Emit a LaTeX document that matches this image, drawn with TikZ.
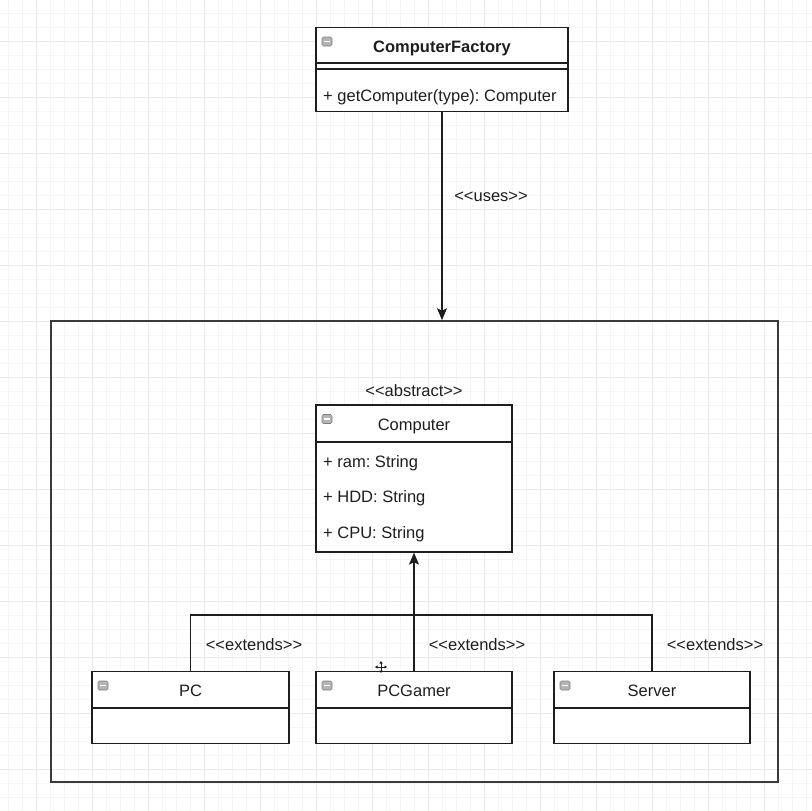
\documentclass[tikz,border=0pt]{standalone}
\usepackage{fontspec}
\setmainfont{Liberation Sans}
\usetikzlibrary{arrows.meta}
\frenchspacing
\definecolor{gridminor}{HTML}{F5F5F5}
\definecolor{gridmajor}{HTML}{EBEBEB}
\definecolor{ink}{HTML}{1E1E1E}
\definecolor{framec}{HTML}{3A3A3A}
\definecolor{iconfill}{HTML}{B4B4B4}
\tikzset{
  classbox/.style={draw=ink, line width=1.3pt, rectangle, inner sep=0pt},
  sep/.style={draw=ink, line width=1.1pt},
  label/.style={font=\fontsize{16.5}{19}\selectfont, inner sep=0pt, text=ink},
  title/.style={font=\fontsize{16.5}{19}\selectfont, inner sep=0pt, text=ink},
  member/.style={font=\fontsize{16.5}{19}\selectfont, inner sep=0pt, anchor=west, text=ink},
  conn/.style={draw=ink, line width=1.3pt},
  tip/.style={-{Stealth[length=12pt,width=10pt,inset=2.5pt]}},
  icon/.style={draw=gray, fill=iconfill, rounded corners=1.5pt, line width=0.6pt,
    minimum width=10pt, minimum height=9pt, inner sep=0pt},
}
% stereotype brackets, kept apart so the font does not join them into guillemets
\newcommand{\stereo}[1]{<\kern0pt<#1>\kern0pt>}
% collapse button in the top left corner of a class header
\newcommand{\collapsebtn}[2]{%
  \node[icon] at (#1+11,#2+14) {};
  \draw[white, line width=1.4pt] (#1+8,#2+14) -- (#1+14,#2+14);
}
\begin{document}
\begin{tikzpicture}[x=1pt,y=-1pt]
\useasboundingbox (0,0) rectangle (812,811);
\fill[white] (0,0) rectangle (812,811);
% background grid
\foreach \i in {0,...,58} {
  \draw[gridminor, line width=0.6pt] ({8+14*\i},0) -- ({8+14*\i},811);
  \draw[gridminor, line width=0.6pt] (0,{13+14*\i}) -- (812,{13+14*\i});
}
\foreach \i in {0,...,14} {
  \draw[gridmajor, line width=0.8pt] ({36+56*\i},0) -- ({36+56*\i},811);
  \draw[gridmajor, line width=0.8pt] (0,{41+56*\i}) -- (812,{41+56*\i});
}

% package frame
\node[draw=framec, line width=1.6pt, minimum width=727pt, minimum height=461pt, inner sep=0pt]
  (frame) at (414.5,551.5) {};

% ComputerFactory
\node[classbox, fill=white, minimum width=252pt, minimum height=84pt] (cf) at (442,69.5) {};
\draw[sep] (316,63) -- (568,63);
\draw[sep] (316,69) -- (568,69);
\collapsebtn{316}{27.5}
\node[title, font=\fontsize{16.5}{19}\selectfont\bfseries] (cft) at (442,48) {ComputerFactory};
\node[member] (cfm) at (323,97) {+ getComputer(type): Computer};

% Computer
\node[label] (abs) at (414,391) {\stereo{abstract}};
\node[classbox, fill=white, minimum width=196pt, minimum height=147pt] (comp) at (414,478.5) {};
\draw[sep] (316,442) -- (512,442);
\collapsebtn{316}{405}
\node[title] (compt) at (414,426) {Computer};
\node[member] (a1) at (323,463) {+ ram: String};
\node[member] (a2) at (323,498) {+ HDD: String};
\node[member] (a3) at (323,534) {+ CPU: String};

% subclasses
\node[classbox, fill=white, minimum width=197pt, minimum height=72pt] (pc) at (190.5,707.5) {};
\draw[sep] (92,708) -- (289,708);
\collapsebtn{92}{671.5}
\node[title] (pct) at (190.5,691) {PC};

\node[classbox, fill=white, minimum width=196pt, minimum height=72pt] (pcg) at (414,707.5) {};
\draw[sep] (316,708) -- (512,708);
\collapsebtn{316}{671.5}
\node[title] (pcgt) at (414,691) {PCGamer};

\node[classbox, fill=white, minimum width=196pt, minimum height=72pt] (srv) at (652,707.5) {};
\draw[sep] (554,708) -- (750,708);
\collapsebtn{554}{671.5}
\node[title] (srvt) at (652,691) {Server};

% uses dependency
\draw[conn, tip] (cf.south) -- (cf.south |- frame.north);
\node[label] (uses) at (491,197) {\stereo{uses}};

% generalisation
\coordinate (j) at (414,615);
\draw[conn, tip] (pcg.north) -- (comp.south);
\draw[conn] (pc.north) |- (j);
\draw[conn] (srv.north) |- (j);
\node[label] (e1) at (254,645) {\stereo{extends}};
\node[label] (e2) at (477,645) {\stereo{extends}};
\node[label] (e3) at (715,645) {\stereo{extends}};

% move cursor
\begin{scope}[shift={(381,667)}, line width=0.9pt, ink]
  \draw[{Triangle[length=2.5pt,width=3pt]}-{Triangle[length=2.5pt,width=3pt]}] (-6,0) -- (6,0);
  \draw[{Triangle[length=2.5pt,width=3pt]}-{Triangle[length=2.5pt,width=3pt]}] (0,-6) -- (0,6);
\end{scope}
\end{tikzpicture}
\end{document}
